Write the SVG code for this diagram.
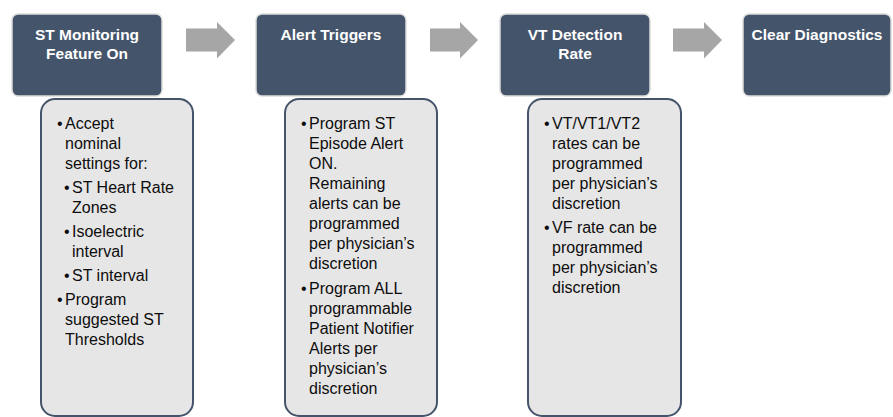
<svg xmlns="http://www.w3.org/2000/svg" width="893" height="417" viewBox="0 0 893 417">
<defs>
<style>
.hdr{fill:#44546A;stroke:#dcdcdc;stroke-width:1.5}
.sub{fill:#E7E6E6;stroke:#44546A;stroke-width:2}
.ht{font-family:"Liberation Sans",Arial,sans-serif;font-weight:bold;font-size:15.5px;fill:#ffffff;text-anchor:middle}
.bt{font-family:"Liberation Sans",Arial,sans-serif;font-size:16px;fill:#0d0d0d}
.arr{fill:#A6A6A6}
</style>
</defs>
<rect width="893" height="417" fill="#ffffff"/>
<g id="connectors">
<polygon class="arr" points="186,28.5 217,28.5 217,22 235,40 217,58.5 217,51.5 186,51.5"/>
<polygon class="arr" points="430,28.5 460,28.5 460,22 478,40 460,58.5 460,51.5 430,51.5"/>
<polygon class="arr" points="673,28.5 704,28.5 704,22 722,40 704,58.5 704,51.5 673,51.5"/>
</g>
<g id="node1">
<rect class="hdr" x="12" y="14" width="150" height="82" rx="6"/>
<text class="ht" x="87" y="40">ST Monitoring</text>
<text class="ht" x="87" y="58.5">Feature On</text>
</g>
<g id="node1-detail">
<rect class="sub" x="41" y="99" width="152" height="317" rx="14"/>
<text class="bt" x="57" y="129">•</text><text class="bt" x="65" y="129">Accept</text>
<text class="bt" x="65" y="149">nominal</text>
<text class="bt" x="65" y="169">settings for:</text>
<text class="bt" x="64" y="193">•</text><text class="bt" x="72" y="193">ST Heart Rate</text>
<text class="bt" x="72" y="213">Zones</text>
<text class="bt" x="64" y="237">•</text><text class="bt" x="72" y="237">Isoelectric</text>
<text class="bt" x="72" y="257">interval</text>
<text class="bt" x="64" y="281">•</text><text class="bt" x="72" y="281">ST interval</text>
<text class="bt" x="57" y="305">•</text><text class="bt" x="65" y="305">Program</text>
<text class="bt" x="65" y="325">suggested ST</text>
<text class="bt" x="65" y="345">Thresholds</text>
</g>
<g id="node2">
<rect class="hdr" x="256" y="14" width="150" height="82" rx="6"/>
<text class="ht" x="331" y="39.5">Alert Triggers</text>
</g>
<g id="node2-detail">
<rect class="sub" x="285" y="99" width="152" height="317" rx="14"/>
<text class="bt" x="301" y="129">•</text><text class="bt" x="309" y="129">Program ST</text>
<text class="bt" x="309" y="149">Episode Alert</text>
<text class="bt" x="309" y="169">ON.</text>
<text class="bt" x="309" y="189">Remaining</text>
<text class="bt" x="309" y="209">alerts can be</text>
<text class="bt" x="309" y="229">programmed</text>
<text class="bt" x="309" y="249">per physician’s</text>
<text class="bt" x="309" y="269">discretion</text>
<text class="bt" x="301" y="294">•</text><text class="bt" x="309" y="294">Program ALL</text>
<text class="bt" x="309" y="314">programmable</text>
<text class="bt" x="309" y="334">Patient Notifier</text>
<text class="bt" x="309" y="354">Alerts per</text>
<text class="bt" x="309" y="374">physician’s</text>
<text class="bt" x="309" y="394">discretion</text>
</g>
<g id="node3">
<rect class="hdr" x="500" y="14" width="150" height="82" rx="6"/>
<text class="ht" x="575" y="40">VT Detection</text>
<text class="ht" x="575" y="58.5">Rate</text>
</g>
<g id="node3-detail">
<rect class="sub" x="528" y="99" width="153" height="317" rx="14"/>
<text class="bt" x="544" y="129">•</text><text class="bt" x="552" y="129">VT/VT1/VT2</text>
<text class="bt" x="552" y="149">rates can be</text>
<text class="bt" x="552" y="169">programmed</text>
<text class="bt" x="552" y="189">per physician’s</text>
<text class="bt" x="552" y="209">discretion</text>
<text class="bt" x="544" y="233">•</text><text class="bt" x="552" y="233">VF rate can be</text>
<text class="bt" x="552" y="253">programmed</text>
<text class="bt" x="552" y="273">per physician’s</text>
<text class="bt" x="552" y="293">discretion</text>
</g>
<g id="node4">
<rect class="hdr" x="743" y="14" width="148" height="82" rx="6"/>
<text class="ht" x="817" y="39.5">Clear Diagnostics</text>
</g>
</svg>
